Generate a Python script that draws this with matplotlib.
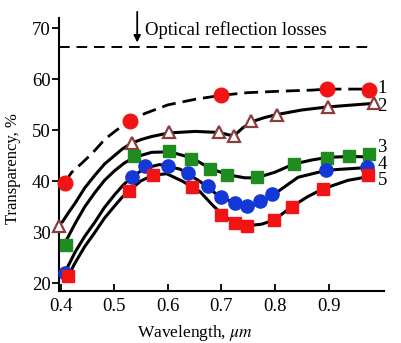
import numpy as np
import matplotlib
matplotlib.use('Agg');
import matplotlib.pyplot as plt

# --------------------------------------------------------------------------- #
# Data
# --------------------------------------------------------------------------- #
# Markers (wavelength in um, transparency in %)
wl1 = [0.408, 0.529, 0.700, 0.898, 0.975];
tr1 = [39.7, 51.9, 56.9, 58.2, 58.0];

wl2 = [0.397, 0.534, 0.602, 0.695, 0.723, 0.756, 0.804, 0.899, 0.985];
tr2 = [31.3, 47.6, 49.7, 49.6, 48.9, 51.8, 53.1, 54.6, 55.3];

wl3 = [0.410, 0.537, 0.603, 0.644, 0.679, 0.711, 0.767, 0.835, 0.898, 0.939, 0.975];
tr3 = [27.5, 45.0, 45.9, 44.4, 42.4, 41.2, 40.8, 43.4, 44.6, 45.0, 45.4];

wl4 = [0.408, 0.534, 0.557, 0.600, 0.638, 0.675, 0.700, 0.726, 0.748, 0.772, 0.795, 0.896, 0.971];
tr4 = [22.1, 40.9, 43.0, 43.0, 41.7, 39.1, 36.9, 35.8, 35.1, 36.1, 37.6, 42.2, 42.9];

wl5 = [0.413, 0.528, 0.572, 0.646, 0.700, 0.726, 0.748, 0.798, 0.831, 0.889, 0.974];
tr5 = [21.4, 38.1, 41.2, 38.9, 33.4, 31.9, 31.3, 32.4, 35.0, 38.5, 41.2];

# Fitted curves drawn through the markers
cwl1 = [0.408, 0.421, 0.440, 0.459, 0.483, 0.505, 0.529, 0.557, 0.600, 0.651, 0.701,
        0.749, 0.813, 0.869, 0.898, 0.935, 0.975];
ctr1 = [39.9, 41.8, 43.6, 45.5, 48.3, 50.1, 51.8, 53.3, 55.0, 56.1, 56.9,
        57.4, 57.7, 57.9, 58.1, 58.1, 58.1];

cwl2 = [0.403, 0.415, 0.427, 0.445, 0.464, 0.482, 0.501, 0.517, 0.533, 0.550, 0.570,
        0.602, 0.651, 0.695, 0.723, 0.740, 0.757, 0.780, 0.803, 0.850, 0.898, 0.984];
ctr2 = [32.0, 33.9, 35.7, 38.7, 41.2, 43.4, 45.1, 46.5, 47.5, 48.2, 48.8,
        49.5, 49.8, 49.6, 48.9, 50.5, 51.7, 52.5, 53.1, 54.0, 54.6, 55.3];

cwl3 = [0.408, 0.418, 0.427, 0.445, 0.464, 0.482, 0.501, 0.519, 0.537, 0.570, 0.604,
        0.645, 0.680, 0.712, 0.744, 0.766, 0.800, 0.835, 0.869, 0.898, 0.939, 0.975];
ctr3 = [27.9, 29.9, 31.7, 35.0, 37.8, 40.2, 42.1, 43.6, 44.7, 45.7, 45.8,
        44.6, 42.5, 41.3, 40.7, 40.7, 41.8, 43.4, 44.2, 44.7, 44.9, 44.8];

cwl4 = [0.408, 0.418, 0.427, 0.445, 0.464, 0.482, 0.501, 0.517, 0.533, 0.557, 0.585,
        0.623, 0.660, 0.697, 0.727, 0.747, 0.772, 0.796, 0.843, 0.897, 0.971];
ctr4 = [22.2, 24.2, 26.1, 29.2, 32.0, 34.9, 37.4, 39.3, 40.8, 42.6, 43.3,
        42.4, 40.0, 37.0, 35.7, 35.0, 35.7, 37.3, 40.8, 42.2, 42.7];

cwl5 = [0.414, 0.427, 0.445, 0.464, 0.482, 0.501, 0.515, 0.529, 0.550, 0.572, 0.598,
        0.628, 0.660, 0.684, 0.703, 0.725, 0.747, 0.775, 0.798, 0.831, 0.861, 0.889,
        0.936, 0.973];
ctr5 = [21.4, 24.0, 27.2, 30.0, 32.8, 35.2, 36.9, 38.3, 40.1, 41.2, 41.5,
        40.0, 38.0, 35.3, 33.4, 31.8, 31.3, 31.6, 32.4, 35.0, 37.0, 38.5,
        40.2, 40.9];

curveLabels = ['1', '2', '3', '4', '5'];
curveLabelY = [58.3, 54.6, 46.6, 43.4, 40.2];

lossLevel = 66.3;
xTicks = [0.4, 0.5, 0.6, 0.7, 0.8, 0.9];
yTicks = [20, 30, 40, 50, 60, 70];


# --------------------------------------------------------------------------- #
# Main
# --------------------------------------------------------------------------- #
def main():

  plt.rcParams['font.family'] = ['Liberation Serif', 'DejaVu Serif'];
  plt.rcParams['mathtext.fontset'] = 'stix';

  fs = 13.5;

  fig = plt.figure(figsize=(4.01, 3.43), dpi=100);
  ax = fig.add_axes([0.147, 0.1516, 0.810, 0.796]);

  lw = 2.2;
  red = '#f21414';
  green = '#1e8c1e';
  blue = '#1438d8';
  brown = '#8c3c3c';

  # curves
  ax.plot(cwl1, ctr1, color='k', lw=2.0, ls=(0, (5, 2.5)), zorder=2);
  for cw, ct in [(cwl2, ctr2), (cwl3, ctr3), (cwl4, ctr4), (cwl5, ctr5)]:
    ax.plot(cw, ct, color='k', lw=lw, solid_joinstyle='round', solid_capstyle='round', zorder=2);

  # markers
  ax.plot(wl1, tr1, 'o', color=red, ms=10.5, mec=red, clip_on=False, zorder=4);
  ax.plot(wl2, tr2, '^', mfc='white', mec=brown, mew=1.6, ms=8, clip_on=False, zorder=4);
  ax.plot(wl3, tr3, 's', color=green, ms=8, clip_on=False, zorder=4);
  ax.plot(wl4, tr4, 'o', color=blue, ms=9.5, clip_on=False, zorder=4);
  ax.plot(wl5, tr5, 's', color=red, ms=8, clip_on=False, zorder=5);

  # optical reflection losses
  ax.plot([0.397, 0.981], [lossLevel, lossLevel], color='k', lw=1.4, ls=(0, (5.5, 3.5)));
  ax.annotate('', xy=(0.543, 66.7), xytext=(0.543, 73.8), annotation_clip=False,
              arrowprops=dict(arrowstyle='-|>', color='k', lw=1.3, mutation_scale=10));
  ax.text(0.557, 69.7, 'Optical reflection losses', fontsize=fs, va='center', ha='left');

  for lab, y in zip(curveLabels, curveLabelY):
    ax.text(1.0, y, lab, fontsize=fs, ha='center', va='center', clip_on=False);

  ax.set_xlim(0.397, 1.003);
  ax.set_ylim(18.5, 72.05);
  ax.set_xticks(xTicks);
  ax.set_xticklabels(['{:.1f}'.format(v) for v in xTicks]);
  ax.set_yticks(yTicks);

  ax.spines['top'].set_visible(False);
  ax.spines['right'].set_visible(False);
  for s in ['left', 'bottom']:
    ax.spines[s].set_linewidth(1.5);
  ax.tick_params(axis='x', direction='in', length=5, width=1.3, labelsize=fs, pad=5);
  ax.tick_params(axis='y', direction='out', length=5, width=1.3, labelsize=fs, pad=1);

  ax.set_xlabel('Wavelength, $\\mathit{\\mu m}$', fontsize=12.5);
  ax.xaxis.set_label_coords(0.42, -0.117);
  ax.set_ylabel('Transparency, %', fontsize=12);
  ax.yaxis.set_label_coords(-0.117, 0.45);

  plt.savefig('out.png', dpi=100);


# --------------------------------------------------------------------------- #
# Execute
# --------------------------------------------------------------------------- #
if __name__ == '__main__':
  main();
